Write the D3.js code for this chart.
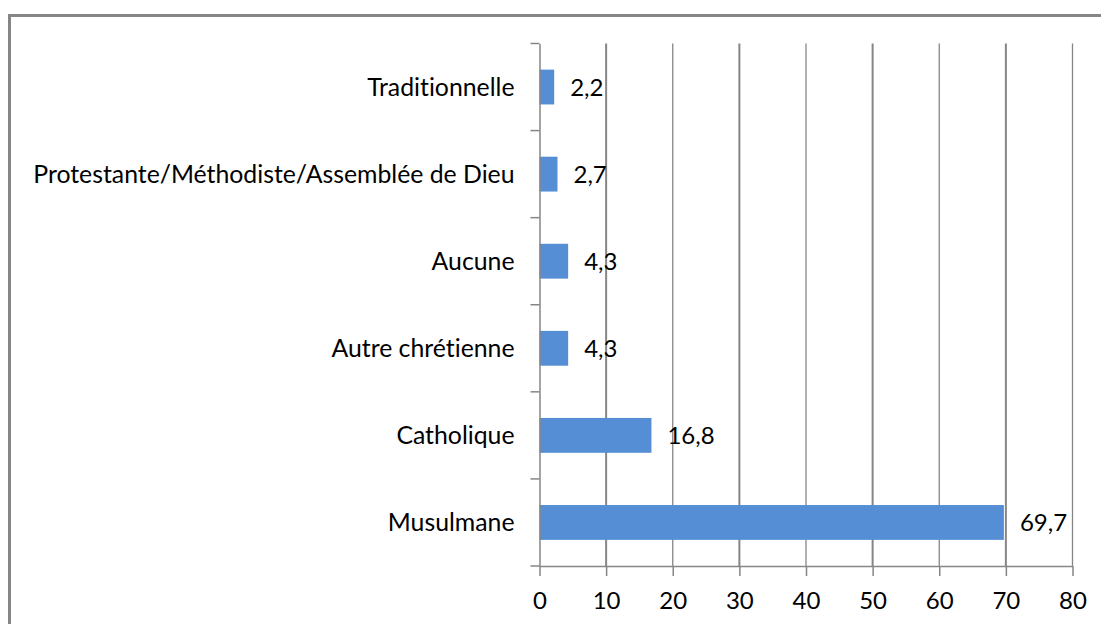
<!DOCTYPE html>
<html>
<head>
<meta charset="utf-8">
<script src="https://cdn.jsdelivr.net/npm/d3@7"></script>
<style>
  body { margin: 0; background: #fff; }
  text { font-family: Lato, "Liberation Sans", sans-serif; fill: #000; font-variant-ligatures: none; }
</style>
</head>
<body>
<div id="chart"></div>
<script>

// data
var categories = ["Traditionnelle", "Protestante/Méthodiste/Assemblée de Dieu", "Aucune",
                  "Autre chrétienne", "Catholique", "Musulmane"];
var values = [2.2, 2.7, 4.3, 4.3, 16.8, 69.7];
var valueLabels = ["2,2", "2,7", "4,3", "4,3", "16,8", "69,7"];
var xTicks = [0, 10, 20, 30, 40, 50, 60, 70, 80];

var data = categories.map(function(c, i) {
  return {cat: c, val: values[i], label: valueLabels[i]};
});

var W = 1101, H = 624;
var margin = {top: 43.5, left: 539.5, right: 28.5, bottom: 58};
var width = W - margin.left - margin.right,
    height = H - margin.top - margin.bottom;

var svg = d3.select("#chart")
  .append("svg")
    .attr("width", W)
    .attr("height", H);

// outer chart frame
svg.append("rect")
  .attr("x", 9.5).attr("y", 15.5)
  .attr("width", W + 10).attr("height", H + 10)
  .attr("fill", "none")
  .attr("stroke", "#868686")
  .attr("stroke-width", 3);

var g = svg.append("g")
  .attr("transform", "translate(" + margin.left + "," + margin.top + ")");

var x = d3.scaleLinear()
  .domain([0, 80])
  .range([0, width]);

var y = d3.scaleBand()
  .domain(categories)
  .range([0, height])
  .padding(0);

// vertical gridlines
g.selectAll(".grid")
  .data(xTicks.slice(1))
  .enter()
  .append("line")
    .attr("x1", function(d) { return x(d); })
    .attr("x2", function(d) { return x(d); })
    .attr("y1", 0)
    .attr("y2", height)
    .attr("stroke", "#868686")
    .attr("stroke-width", function(d) { return d % 20 == 10 ? 2 : 1.3; });

// bars
var barH = y.bandwidth() * 0.4;
g.selectAll(".bar")
  .data(data)
  .enter()
  .append("rect")
    .attr("x", x(0))
    .attr("y", function(d) { return y(d.cat) + (y.bandwidth() - barH) / 2; })
    .attr("width", function(d) { return x(d.val) - x(0); })
    .attr("height", barH)
    .attr("fill", "#558ED5");

// value labels
g.selectAll(".val")
  .data(data)
  .enter()
  .append("text")
    .attr("x", function(d) { return x(d.val) + 16; })
    .attr("y", function(d) { return y(d.cat) + y.bandwidth() / 2; })
    .attr("dy", "0.36em")
    .style("font-size", "24px")
    .text(function(d) { return d.label; });

// y axis with ticks between categories
var yAxis = g.append("g")
  .call(d3.axisLeft(y).tickSize(0).tickPadding(25));
yAxis.select(".domain").attr("stroke", "#868686").attr("stroke-width", 1.5);
yAxis.selectAll("text")
  .style("font-size", "24.8px")
  .attr("dy", "0.36em");

g.selectAll(".ytick")
  .data(d3.range(categories.length + 1))
  .enter()
  .append("line")
    .attr("x1", -9).attr("x2", 0)
    .attr("y1", function(i) { return i * y.step(); })
    .attr("y2", function(i) { return i * y.step(); })
    .attr("stroke", "#868686")
    .attr("stroke-width", 1.5);

// x axis
var xAxis = g.append("g")
  .attr("transform", "translate(0," + height + ")")
  .call(d3.axisBottom(x).tickValues(xTicks).tickSize(10).tickSizeOuter(0).tickPadding(16));
xAxis.select(".domain").attr("stroke", "#868686").attr("stroke-width", 1.5);
xAxis.selectAll(".tick line").attr("stroke", "#868686").attr("stroke-width", 1.5);
xAxis.selectAll("text").style("font-size", "24px");

</script>
</body>
</html>
